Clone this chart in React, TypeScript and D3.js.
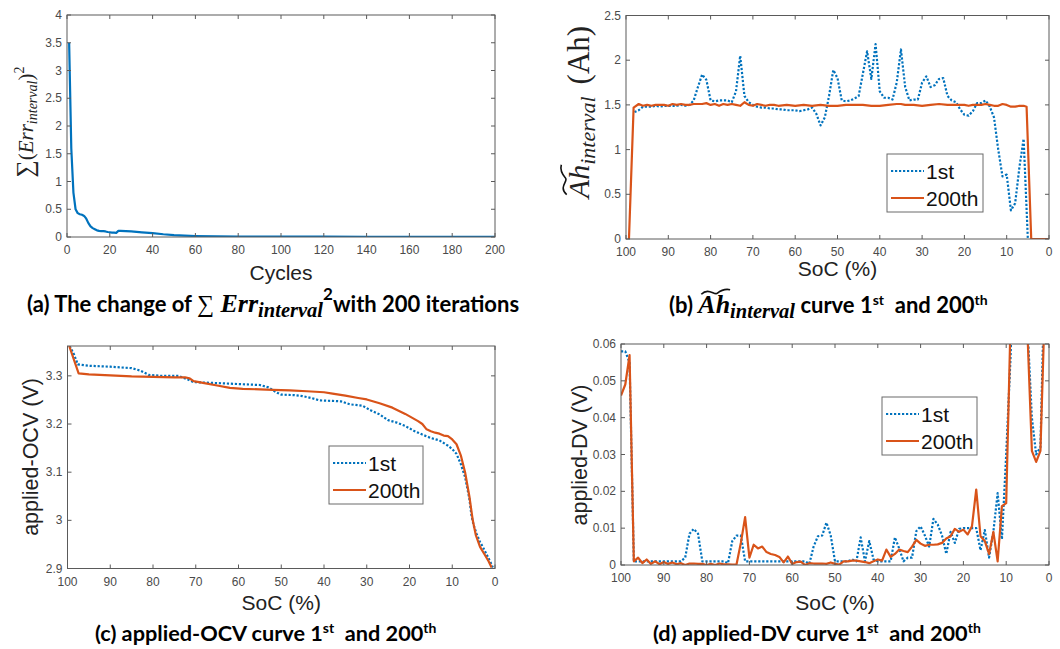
import React, { useLayoutEffect, useRef, useState } from 'react';
import * as d3 from 'd3';

const BLUE = '#0072BD';
const ORANGE = '#D95319';
const AXIS = '#5a5a5a';
const TICKTXT = '#4a4a4a';
const SANS = '"Liberation Sans", Arial, sans-serif';
const SERIF = '"Liberation Serif", "Times New Roman", serif';
const CAP = 'Lato, "Liberation Sans", sans-serif';

// ---------- (a) error convergence ----------
const cyclesA = [1, 2, 3, 4, 5, 6, 7, 8, 9, 10, 11, 12, 13, 14, 15, 16, 17, 18, 19, 20, 21, 22, 23, 24, 25, 30, 35, 40, 45, 50, 55, 60, 70, 80, 100, 120, 140, 160, 180, 200];
const errA = [3.5, 1.6, 0.8, 0.5, 0.43, 0.41, 0.4, 0.38, 0.33, 0.25, 0.19, 0.16, 0.14, 0.12, 0.11, 0.105, 0.105, 0.1, 0.09, 0.085, 0.08, 0.078, 0.075, 0.11, 0.11, 0.1, 0.085, 0.07, 0.05, 0.035, 0.025, 0.018, 0.012, 0.009, 0.007, 0.005, 0.004, 0.003, 0.003, 0.003];
const xTicksA = [0, 20, 40, 60, 80, 100, 120, 140, 160, 180, 200];
const yTicksA = [0, 0.5, 1, 1.5, 2, 2.5, 3, 3.5, 4];

// ---------- (b) Ah interval ----------
const socB1 = [98, 97, 96, 95, 94, 93, 92, 91, 90, 89, 88, 87, 86, 85, 84, 83, 82, 81, 80, 79, 78, 77, 76, 75, 74, 73, 72, 71, 70, 69, 68, 67, 66, 65, 64, 63, 62, 61, 60, 59, 58, 57, 56, 55, 54, 53, 52, 51, 50, 49, 48, 47, 46, 45, 44, 43, 42, 41, 40, 39, 38, 37, 36, 35, 34, 33, 32, 31, 30, 29, 28, 27, 26, 25, 24, 23, 22, 21, 20, 19, 18, 17, 16, 15, 14, 13, 12, 11, 10, 9, 8, 7, 6, 5];
const ahB1 = [1.42, 1.44, 1.48, 1.48, 1.48, 1.49, 1.48, 1.49, 1.49, 1.49, 1.49, 1.5, 1.49, 1.5, 1.55, 1.7, 1.84, 1.78, 1.55, 1.54, 1.55, 1.55, 1.55, 1.53, 1.65, 2.05, 1.6, 1.53, 1.5, 1.48, 1.47, 1.47, 1.46, 1.46, 1.45, 1.45, 1.44, 1.44, 1.44, 1.43, 1.44, 1.45, 1.47, 1.4, 1.27, 1.36, 1.6, 1.89, 1.8, 1.55, 1.54, 1.55, 1.57, 1.6, 1.85, 2.1, 1.79, 2.18, 1.65, 1.58, 1.58, 1.56, 1.75, 2.12, 1.7, 1.55, 1.56, 1.56, 1.75, 1.82, 1.7, 1.72, 1.79, 1.8, 1.6, 1.55, 1.53, 1.45, 1.39, 1.38, 1.43, 1.52, 1.52, 1.55, 1.48, 1.36, 1.0, 0.7, 0.72, 0.32, 0.4, 0.8, 1.12, 0.0];
const socB200 = [99.3, 98.2, 97, 96, 95, 94, 93, 92, 91, 90, 89, 88, 87, 86, 85, 84, 83, 82, 81, 80, 79, 78, 77, 76, 75, 74, 73, 72, 71, 70, 69, 68, 67, 66, 65, 64, 62, 60, 58, 56, 54, 52, 50, 48, 46, 44, 42, 40, 38, 36, 35, 34, 32, 30, 28, 26, 24, 22, 20, 19, 18, 16, 15, 14, 13, 12, 11, 10, 9, 8, 7, 6, 5.3, 4.2, 3, 2, 1, 0];
const ahB200 = [0, 1.47, 1.51, 1.49, 1.5, 1.49, 1.5, 1.5, 1.5, 1.49, 1.51, 1.5, 1.51, 1.5, 1.5, 1.51, 1.51, 1.51, 1.52, 1.5, 1.51, 1.49, 1.51, 1.5, 1.51, 1.5, 1.49, 1.53, 1.5, 1.49, 1.51, 1.5, 1.49, 1.5, 1.5, 1.49, 1.5, 1.49, 1.5, 1.49, 1.5, 1.49, 1.49, 1.5, 1.5, 1.5, 1.49, 1.49, 1.5, 1.51, 1.51, 1.5, 1.5, 1.49, 1.5, 1.51, 1.5, 1.5, 1.5, 1.49, 1.5, 1.5, 1.51, 1.5, 1.49, 1.49, 1.51, 1.5, 1.48, 1.48, 1.49, 1.49, 1.48, 0, 0, 0, 0, 0];
const socTicks = [100, 90, 80, 70, 60, 50, 40, 30, 20, 10, 0];
const yTicksB = [0, 0.5, 1, 1.5, 2, 2.5];

// ---------- (c) applied OCV ----------
const socC1 = [99.5, 98.5, 97.6, 95, 90, 85, 83, 81, 78, 74, 72, 70.5, 68, 65, 60, 55, 53, 51, 50, 47, 45, 43, 41, 38, 36, 34, 31, 29, 27, 25, 23, 21, 19, 17, 15, 13, 11, 10, 9, 8, 7, 6, 5.5, 5, 4.3, 3.5, 2.8, 2, 1, 0.5];
const ocvC1 = [3.362, 3.345, 3.324, 3.321, 3.319, 3.316, 3.311, 3.302, 3.3, 3.3, 3.293, 3.287, 3.286, 3.285, 3.283, 3.281, 3.276, 3.265, 3.261, 3.26, 3.258, 3.254, 3.249, 3.248, 3.247, 3.241, 3.238, 3.228, 3.22, 3.208, 3.203, 3.196, 3.186, 3.178, 3.171, 3.166, 3.155, 3.148, 3.138, 3.117, 3.09, 3.045, 3.01, 2.99, 2.972, 2.955, 2.944, 2.93, 2.912, 2.902];
const socC200 = [99.6, 97.4, 95, 90, 85, 80, 75, 72.5, 71.5, 70.5, 68, 65, 62, 59, 55, 52, 48, 44, 40, 38, 35, 32, 30, 27, 24, 21, 18, 17, 16, 15, 14, 13, 12, 11, 10, 9, 8, 7, 6, 5.2, 4.5, 3.5, 2.5, 1.5, 0.8];
const ocvC200 = [3.362, 3.305, 3.303, 3.301, 3.299, 3.298, 3.297, 3.297, 3.295, 3.289, 3.285, 3.28, 3.275, 3.273, 3.272, 3.271, 3.27, 3.268, 3.266, 3.263, 3.259, 3.254, 3.251, 3.243, 3.234, 3.221, 3.206, 3.2, 3.189, 3.185, 3.182, 3.18, 3.176, 3.175, 3.168, 3.158, 3.135, 3.1, 3.05, 3.0, 2.97, 2.945, 2.93, 2.915, 2.902];
const yTicksC = [2.9, 3, 3.1, 3.2, 3.3];

// ---------- (d) applied DV ----------
const socD = [100, 99, 98, 97, 96, 95, 94, 93, 92, 91, 90, 89, 88, 87, 86, 85, 84, 83, 82, 81, 80, 79, 78, 77, 76, 75, 74, 73, 72, 71, 70, 69, 68, 67, 66, 65, 64, 63, 62, 61, 60, 59, 58, 57, 56, 55, 54, 53, 52, 51, 50, 49, 48, 47, 46, 45, 44, 43, 42, 41, 40, 39, 38, 37, 36, 35, 34, 33, 32, 31, 30, 29, 28, 27, 26, 25, 24, 23, 22, 21, 20, 19, 18, 17, 16, 15, 14, 13, 12, 11, 10, 9, 8, 7, 6, 5, 4, 3, 2, 1];
const dvD1 = [0.058, 0.058, 0.055, 0.001, 0.001, 0.001, 0.001, 0.001, 0.001, 0.001, 0.001, 0.001, 0.001, 0.001, 0.001, 0.002, 0.0085, 0.0098, 0.0085, 0.001, 0.001, 0.001, 0.001, 0.001, 0.001, 0.0005, 0.0065, 0.008, 0.008, 0.001, 0.001, 0.001, 0.001, 0.001, 0.001, 0.001, 0.001, 0.001, 0.001, 0.001, 0.001, 0.001, 0.001, 0.001, 0.0003, 0.005, 0.0078, 0.008, 0.0115, 0.008, 0.001, 0.001, 0.001, 0.001, 0.0015, 0.001, 0.0075, 0.001, 0.0065, 0.0015, 0.001, 0.001, 0.001, 0.001, 0.0075, 0.0045, 0.001, 0.002, 0.002, 0.0092, 0.0105, 0.008, 0.005, 0.0125, 0.011, 0.008, 0.003, 0.009, 0.006, 0.0098, 0.01, 0.01, 0.01, 0.01, 0.004, 0.0095, 0.002, 0.009, 0.0195, 0.007, 0.03, 0.056, 0.09, 0.12, 0.09, 0.064, 0.04, 0.03, 0.032, 0.08];
const dvD200 = [0.046, 0.049, 0.057, 0.001, 0.002, 0.0005, 0.0015, 0.0003, 0.001, 0.0002, 0.0008, 0.0003, 0.0007, 0.0002, 0.0005, 0.0, 0.0004, 0.0004, 0.0003, 0.0003, 0.0, 0.0003, 0.0, 0.0004, 0.0002, 0.0002, 0.0001, 0.0002, 0.006, 0.013, 0.002, 0.0055, 0.0045, 0.005, 0.0035, 0.003, 0.0027, 0.0022, 0.0007, 0.0023, 0.0003, 0.0008, 0.0009, 0.0, 0.0005, 0.0004, 0.0004, 0.0004, 0.0003, 0.0007, 0.0003, 0.0001, 0.001, 0.001, 0.0012, 0.0012, 0.001, 0.0008, 0.0005, 0.001, 0.0015, 0.0012, 0.0042, 0.0022, 0.003, 0.0042, 0.0038, 0.0035, 0.005, 0.0068, 0.0058, 0.0052, 0.0055, 0.0055, 0.0056, 0.006, 0.0072, 0.0078, 0.0098, 0.009, 0.0096, 0.0083, 0.0105, 0.0205, 0.0078, 0.0065, 0.003, 0.009, 0.001, 0.016, 0.0168, 0.065, 0.1, 0.12, 0.1, 0.062, 0.031, 0.028, 0.031, 0.07];
const yTicksD = [0, 0.01, 0.02, 0.03, 0.04, 0.05, 0.06];

const legendLabels = ['1st', '200th'];

type Rect = { l: number; r: number; t: number; b: number };
type Series = { x: number[]; y: number[]; color: string; dotted: boolean };

const fmt = d3.format('~g');

function Panel(props: {
  id: string; rect: Rect; xDomain: [number, number]; yDomain: [number, number];
  xTicks: number[]; yTicks: number[]; series: Series[];
}) {
  const { id, rect, xDomain, yDomain, xTicks, yTicks, series } = props;
  const x = d3.scaleLinear().domain(xDomain).range([rect.l, rect.r]);
  const y = d3.scaleLinear().domain(yDomain).range([rect.b, rect.t]);
  const tl = 4;
  return (
    <g>
      <defs>
        <clipPath id={id}>
          <rect x={rect.l} y={rect.t} width={rect.r - rect.l} height={rect.b - rect.t} />
        </clipPath>
      </defs>
      <rect x={rect.l} y={rect.t} width={rect.r - rect.l} height={rect.b - rect.t} fill="white" />
      <g clipPath={`url(#${id})`}>
        {series.map((s, i) => {
          const line = d3.line<number>().x((_, k) => x(s.x[k])).y((v) => y(v));
          return (
            <path key={i} d={line(s.y) || ''} fill="none" stroke={s.color} strokeWidth={2.2}
              strokeDasharray={s.dotted ? '2.2,1.8' : undefined} strokeLinejoin="round" />
          );
        })}
      </g>
      <rect x={rect.l} y={rect.t} width={rect.r - rect.l} height={rect.b - rect.t} fill="none" stroke={AXIS} strokeWidth={1} />
      {xTicks.map((t) => (
        <g key={'x' + t}>
          <line x1={x(t)} x2={x(t)} y1={rect.b} y2={rect.b - tl} stroke={AXIS} />
          <line x1={x(t)} x2={x(t)} y1={rect.t} y2={rect.t + tl} stroke={AXIS} />
          <text x={x(t)} y={rect.b + 17} textAnchor="middle" fontSize={12} fill={TICKTXT} fontFamily={SANS}>{fmt(t)}</text>
        </g>
      ))}
      {yTicks.map((t) => (
        <g key={'y' + t}>
          <line x1={rect.l} x2={rect.l + tl} y1={y(t)} y2={y(t)} stroke={AXIS} />
          <line x1={rect.r} x2={rect.r - tl} y1={y(t)} y2={y(t)} stroke={AXIS} />
          <text x={rect.l - 5} y={y(t) + 4} textAnchor="end" fontSize={12} fill={TICKTXT} fontFamily={SANS}>{fmt(t)}</text>
        </g>
      ))}
    </g>
  );
}

function Legend({ x, y, w, h }: { x: number; y: number; w: number; h: number }) {
  const rows = [{ c: BLUE, dotted: true }, { c: ORANGE, dotted: false }];
  return (
    <g>
      <rect x={x} y={y} width={w} height={h} fill="white" stroke="#6a6a6a" strokeWidth={1} />
      {legendLabels.map((lab, i) => {
        const cy = y + 17 + i * 27;
        return (
          <g key={lab}>
            <line x1={x + 4} x2={x + 37} y1={cy} y2={cy} stroke={rows[i].c} strokeWidth={2.2}
              strokeDasharray={rows[i].dotted ? '2.2,1.8' : undefined} />
            <text x={x + 39} y={cy + 7.5} fontSize={21} fontFamily={SANS} fill="#111">{lab}</text>
          </g>
        );
      })}
    </g>
  );
}

// text with a wide tilde drawn over the characters "Ah"
function TildeText(props: { x: number; y: number; children: React.ReactNode; style: any; anchor?: string; tfs: number; lift: number; sw: number }) {
  const ref = useRef<SVGTextElement>(null);
  const [tl, setTl] = useState<null | { x1: number; x2: number }>(null);
  useLayoutEffect(() => {
    const el = ref.current;
    if (!el) return;
    const s = el.textContent || '';
    const i = s.indexOf('Ah');
    if (i < 0) return;
    const a = el.getExtentOfChar(i);
    const h = el.getExtentOfChar(i + 1);
    setTl({ x1: a.x + props.tfs * 0.12, x2: h.x + h.width });
  }, []);
  let tilde = null;
  if (tl) {
    const yy = props.y - props.lift;
    const w = tl.x2 - tl.x1;
    const a = props.tfs * 0.09;
    tilde = (
      <path d={`M${tl.x1},${yy + a} C${tl.x1 + w * 0.25},${yy - a * 2.2} ${tl.x1 + w * 0.45},${yy + a * 1.6} ${tl.x1 + w * 0.55},${yy + a * 0.6} S${tl.x1 + w * 0.8},${yy - a * 1.6} ${tl.x2},${yy - a}`}
        fill="none" stroke="#111" strokeWidth={props.sw} />
    );
  }
  return (
    <g>
      <text ref={ref} x={props.x} y={props.y} style={props.style} textAnchor={props.anchor || 'start'}>{props.children}</text>
      {tilde}
    </g>
  );
}

export default function App() {
  const PA: Rect = { l: 67, r: 495, t: 15, b: 237 };
  const PB: Rect = { l: 626, r: 1049, t: 15.5, b: 239 };
  const PC: Rect = { l: 67.5, r: 495, t: 346, b: 568.5 };
  const PD: Rect = { l: 621, r: 1049, t: 344, b: 565 };

  const capStyle = { fontFamily: CAP, fontWeight: 700, fontSize: 22, fill: '#000', whiteSpace: 'pre' } as any;
  const capStyle2 = { ...capStyle, fontSize: 21.7 };
  const mathB = { fontFamily: SERIF, fontStyle: 'italic', fontWeight: 700 } as any;

  return (
    <svg width={1060} height={649} style={{ position: 'absolute', left: 0, top: 0, background: 'white' }}>
      <rect x={0} y={0} width={1060} height={649} fill="white" />
      <Panel id="ca" rect={PA} xDomain={[0, 200]} yDomain={[0, 4]} xTicks={xTicksA} yTicks={yTicksA}
        series={[{ x: cyclesA, y: errA, color: BLUE, dotted: false }]} />
      <Panel id="cb" rect={PB} xDomain={[100, 0]} yDomain={[0, 2.5]} xTicks={socTicks} yTicks={yTicksB}
        series={[{ x: socB1, y: ahB1, color: BLUE, dotted: true }, { x: socB200, y: ahB200, color: ORANGE, dotted: false }]} />
      <Panel id="cc" rect={PC} xDomain={[100, 0]} yDomain={[2.9, 3.362]} xTicks={socTicks} yTicks={yTicksC}
        series={[{ x: socC1, y: ocvC1, color: BLUE, dotted: true }, { x: socC200, y: ocvC200, color: ORANGE, dotted: false }]} />
      <Panel id="cd" rect={PD} xDomain={[100, 0]} yDomain={[0, 0.06]} xTicks={socTicks} yTicks={yTicksD}
        series={[{ x: socD, y: dvD1, color: BLUE, dotted: true }, { x: socD, y: dvD200, color: ORANGE, dotted: false }]} />

      <Legend x={887} y={154} w={96} h={58} />
      <Legend x={329} y={446} w={94} h={58} />
      <Legend x={882} y={397} w={95} h={58} />

      {/* x labels */}
      <text x={(PA.l + PA.r) / 2} y={280} textAnchor="middle" fontSize={21} fontFamily={SANS} fill="#222">Cycles</text>
      <text x={(PB.l + PB.r) / 2} y={276} textAnchor="middle" fontSize={21} fontFamily={SANS} fill="#222">SoC (%)</text>
      <text x={(PC.l + PC.r) / 2} y={610} textAnchor="middle" fontSize={21} fontFamily={SANS} fill="#222">SoC (%)</text>
      <text x={(PD.l + PD.r) / 2} y={610} textAnchor="middle" fontSize={21} fontFamily={SANS} fill="#222">SoC (%)</text>

      {/* y labels */}
      <g transform="translate(33,122) rotate(-90)">
        <text x={0} y={0} textAnchor="middle" fontFamily={SERIF} fontSize={21} fill="#222">
          <tspan fontSize={24}>∑</tspan>
          <tspan>(</tspan>
          <tspan fontStyle="italic">Err</tspan>
          <tspan fontStyle="italic" fontSize={14} dy={4}>interval</tspan>
          <tspan dy={-4}>)</tspan>
          <tspan fontSize={14} dy={-9}>2</tspan>
        </text>
      </g>
      <g transform="translate(589,112) rotate(-90)">
        <TildeText x={0} y={0} tfs={30} lift={25} sw={1.6} anchor="middle"
          style={{ fontFamily: SERIF, fontSize: 30, fill: '#222' }}>
          <tspan fontStyle="italic">Ah</tspan>
          <tspan fontStyle="italic" fontSize={22} dy={6}>interval</tspan>
          <tspan dy={-6} dx={12} fontSize={31}>(Ah)</tspan>
        </TildeText>
      </g>
      <text transform="translate(38,457) rotate(-90)" textAnchor="middle" fontSize={21.5} fontFamily={SANS} fill="#222">applied-OCV (V)</text>
      <text transform="translate(587,455) rotate(-90)" textAnchor="middle" fontSize={21.5} fontFamily={SANS} fill="#222">applied-DV (V)</text>

      {/* captions */}
      <text x={27} y={312} style={capStyle}>
        <tspan>(a) The change of </tspan>
        <tspan fontFamily={SERIF} fontWeight={400} fontSize={24}>∑</tspan>
        <tspan style={mathB} fontSize={26}> Err</tspan>
        <tspan style={mathB} fontSize={20.5} dy={5}>interval</tspan>
        <tspan fontSize={17} dy={-17}>2</tspan>
        <tspan dy={12}>with 200 iterations</tspan>
      </text>
      <TildeText x={669} y={313} tfs={25} lift={21} sw={1.7} style={capStyle}>
        <tspan>(b) </tspan>
        <tspan style={mathB} fontSize={26}>Ah</tspan>
        <tspan style={mathB} fontSize={20.5} dy={5}>interval</tspan>
        <tspan dy={-5}> curve 1</tspan>
        <tspan fontSize={14} dy={-8}>st</tspan>
        <tspan dy={8}>  and 200</tspan>
        <tspan fontSize={14} dy={-8}>th</tspan>
      </TildeText>
      <text x={95} y={641} style={capStyle2}>
        <tspan>(c) applied-OCV curve 1</tspan>
        <tspan fontSize={14} dy={-8}>st</tspan>
        <tspan dy={8}>  and 200</tspan>
        <tspan fontSize={14} dy={-8}>th</tspan>
      </text>
      <text x={653} y={641} style={capStyle2}>
        <tspan>(d) applied-DV curve 1</tspan>
        <tspan fontSize={14} dy={-8}>st</tspan>
        <tspan dy={8}>  and 200</tspan>
        <tspan fontSize={14} dy={-8}>th</tspan>
      </text>
    </svg>
  );
}
